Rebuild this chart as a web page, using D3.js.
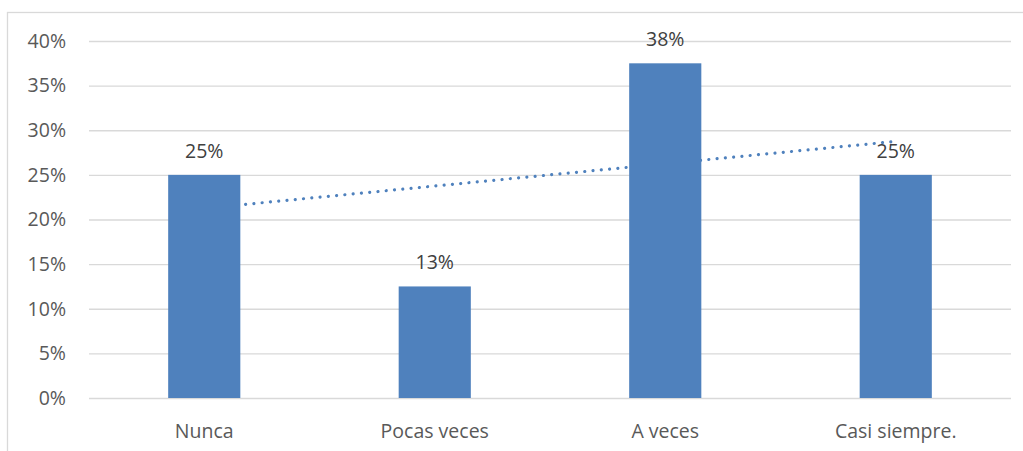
<!DOCTYPE html>
<html lang="es">
<head>
<meta charset="UTF-8" />
<title>Frecuencia</title>
<script src="https://cdn.jsdelivr.net/npm/d3@7"></script>
<style>
body{margin:0;background:#fff}
svg{display:block;font-family:"Open Sans",Lato,sans-serif}
.grid line{stroke:#d9d9d9;stroke-width:1.3}
.grid path{display:none}
</style>
</head>
<body>
<svg id="chart" width="1023" height="451"></svg>
<script>
/* data */
const categories=['Nunca','Pocas veces','A veces','Casi siempre.'];
const values=[0.25,0.125,0.375,0.25];
const valueLabels=['25%','13%','38%','25%'];
const yTicks=[0,0.05,0.10,0.15,0.20,0.25,0.30,0.35,0.40];

const svg=d3.select('#chart'),W=+svg.attr('width'),H=+svg.attr('height');
const M={l:89,r:12,t:41,b:53};
const blue='#4f81bd',fs=19.5;

// outer frame (cropped at right/bottom)
svg.append('rect').attr('x',7.5).attr('y',12.5).attr('width',W+10).attr('height',H+10)
  .attr('fill','none').attr('stroke','#d9d9d9').attr('stroke-width',1.3);

const x=d3.scaleBand().domain(categories).range([M.l,W-M.r]).paddingInner(0.687).paddingOuter(0.3435);
const y=d3.scaleLinear().domain([0,0.4]).range([H-M.b,M.t]);

// gridlines
svg.append('g').attr('class','grid').attr('transform',`translate(${M.l},0)`)
  .call(d3.axisLeft(y).tickValues(yTicks).tickSize(-(W-M.r-M.l)).tickFormat(''));

// y labels
svg.append('g').selectAll('text').data(yTicks).join('text')
  .attr('x',66).attr('y',d=>y(d)).attr('dy','0.35em').attr('text-anchor','end')
  .attr('fill','#595959').attr('font-size',fs).text(d3.format('.0%'));

// linear trendline (least squares over category index), drawn behind bars
const n=values.length,idx=d3.range(1,n+1);
const mx=d3.mean(idx),my=d3.mean(values);
const slope=d3.sum(idx,(i,k)=>(i-mx)*(values[k]-my))/d3.sum(idx,i=>(i-mx)**2);
const icpt=my-slope*mx;
const cx=i=>x(categories[i-1])+x.bandwidth()/2;
svg.append('path').datum([1,n]).attr('fill','none').attr('stroke',blue)
  .attr('stroke-width',3.2).attr('stroke-linecap','round').attr('stroke-dasharray','0.01 8.3')
  .attr('d',d3.line().x(i=>cx(i)).y(i=>y(icpt+slope*i)));

// bars
svg.append('g').selectAll('rect').data(values).join('rect')
  .attr('x',(d,i)=>x(categories[i])).attr('width',x.bandwidth())
  .attr('y',d=>y(d)).attr('height',d=>y(0)-y(d)).attr('fill',blue);

// value labels
svg.append('g').selectAll('text').data(values).join('text')
  .attr('x',(d,i)=>x(categories[i])+x.bandwidth()/2).attr('y',d=>y(d)-24).attr('dy','0.35em')
  .attr('text-anchor','middle').attr('fill','#404040').attr('font-size',fs)
  .text((d,i)=>valueLabels[i]);

// x labels
svg.append('g').selectAll('text').data(categories).join('text')
  .attr('x',d=>x(d)+x.bandwidth()/2).attr('y',431).attr('dy','0.35em')
  .attr('text-anchor','middle').attr('fill','#595959').attr('font-size',fs).text(d=>d);
</script>
</body>
</html>
